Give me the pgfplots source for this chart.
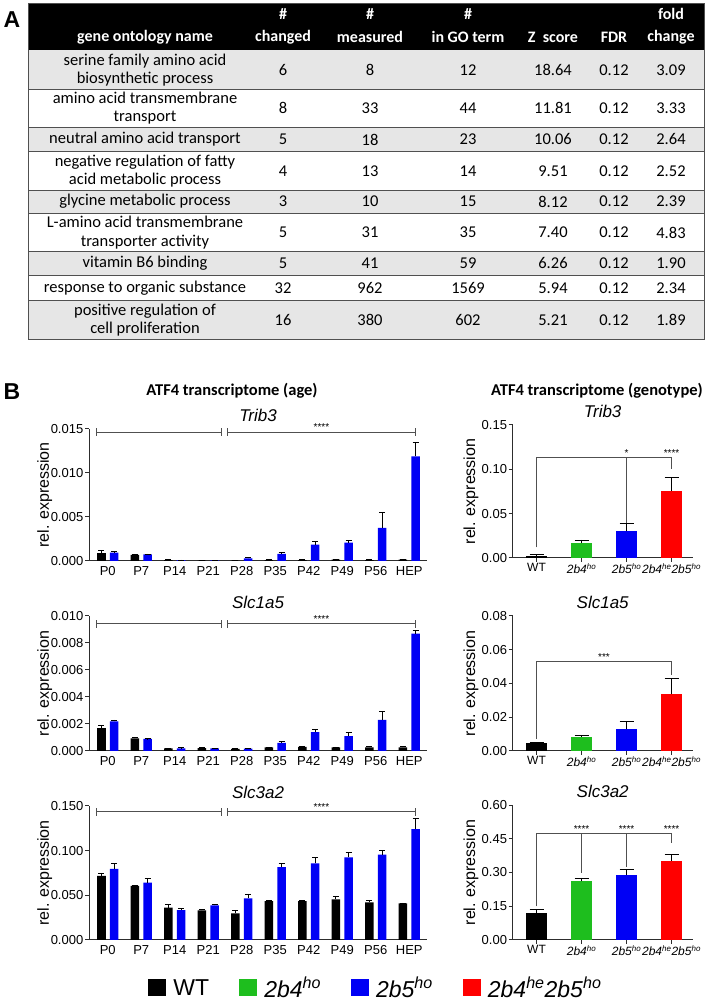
\documentclass[border=0pt]{standalone}
\usepackage{pgfplots}
\usepackage{pgfplotstable}
\pgfplotsset{compat=1.18}
\usepackage{fontspec}
\setmainfont{Liberation Sans}
\newfontfamily\tabfont{Carlito}

\definecolor{rowgray}{RGB}{230,230,230}
\definecolor{lngray}{RGB}{80,80,80}
\definecolor{cgreen}{RGB}{30,190,30}
\definecolor{cblue}{RGB}{0,0,245}
\definecolor{cred}{RGB}{255,0,0}
\definecolor{axgray}{RGB}{45,45,45}

% age series: x, WT mean, WT sem, 2b5ho mean, 2b5ho sem
\pgfplotstableread{
x wt wterr ko koerr
0 0.00090 0.00025 0.00095 0.00015
1 0.00070 0.00010 0.00075 0.00005
2 0.00010 0.00003 0.00010 0.00002
3 0.00005 0.00002 0.00008 0.00002
4 0.00005 0.00002 0.00030 0.00015
5 0.00010 0.00003 0.00080 0.00020
6 0.00010 0.00003 0.00185 0.00035
7 0.00015 0.00003 0.00210 0.00025
8 0.00010 0.00003 0.00375 0.00175
9 0.00015 0.00003 0.01190 0.00160
}\tribage
\pgfplotstableread{
x wt wterr ko koerr
0 0.00170 0.00020 0.00220 0.00010
1 0.00094 0.00006 0.00089 0.00003
2 0.00020 0.00002 0.00020 0.00003
3 0.00022 0.00006 0.00020 0.00002
4 0.00015 0.00002 0.00017 0.00002
5 0.00027 0.00002 0.00060 0.00008
6 0.00030 0.00003 0.00140 0.00018
7 0.00027 0.00003 0.00110 0.00025
8 0.00027 0.00010 0.00230 0.00060
9 0.00027 0.00010 0.00870 0.00020
}\slconeage
\pgfplotstableread{
x wt wterr ko koerr
0 0.0718 0.0032 0.0797 0.0060
1 0.0605 0.0005 0.0643 0.0041
2 0.0361 0.0037 0.0335 0.0018
3 0.0331 0.0015 0.0387 0.0011
4 0.0297 0.0034 0.0466 0.0049
5 0.0436 0.0005 0.0816 0.0037
6 0.0436 0.0005 0.0857 0.0064
7 0.0455 0.0030 0.0925 0.0052
8 0.0421 0.0019 0.0955 0.0045
9 0.0410 0.0005 0.1240 0.0120
}\slcthreeage

\pgfplotsset{
  base/.style={
    scale only axis, axis lines=left,
    axis line style={-, line width=1pt, axgray},
    tick style={line width=1pt, axgray}, tick align=outside, major tick length=4pt,
    ymin=0, clip=false, scaled y ticks=false,
    /pgf/number format/assume math mode=true,
    tick label style={font=\fontsize{13}{15}\selectfont, inner sep=1.5pt},
    ylabel={rel. expression},
    ylabel style={font=\fontsize{16}{18}\selectfont, anchor=center},
    title style={font=\fontsize{17}{19}\selectfont\itshape, at={(0.5,1)}, anchor=center, yshift=8pt},
  },
  ageax/.style={base, width=338pt, xmin=-0.56, xmax=9.53, xtick={0,...,9},
    xticklabels={P0,P7,P14,P21,P28,P35,P42,P49,P56,HEP},
    xtick style={draw=none},
    ylabel style={at={(axis description cs:-0.131,0.5)}},
    yticklabel style={/pgf/number format/.cd, fixed, fixed zerofill, precision=3}},
  genoax/.style={base, width=180pt, xmin=-0.53, xmax=3.47, xtick={0,1,2,3},
    xticklabels={WT,\textit{2b4}\textsuperscript{\textit{ho}},\textit{2b5}\textsuperscript{\textit{ho}},\textit{2b4}\textsuperscript{\textit{he}}\textit{2b5}\textsuperscript{\textit{ho}}},
    xticklabel style={font=\fontsize{12}{14}\selectfont},
    ylabel style={at={(axis description cs:-0.232,0.5)}},
    yticklabel style={/pgf/number format/.cd, fixed, fixed zerofill, precision=2}},
  agebar/.style={ybar, bar width=0.26, bar shift=0pt, draw=none, fill=#1,
    error bars/y dir=plus, error bars/y explicit,
    error bars/error bar style={line width=0.8pt, black},
    error bars/error mark options={rotate=90, mark size=3pt, line width=0.8pt, black}},
  genobar/.style={ybar, bar width=0.46, bar shift=0pt, draw=none, fill=#1,
    error bars/y dir=plus, error bars/y explicit,
    error bars/error bar style={line width=0.8pt, black},
    error bars/error mark options={rotate=90, mark size=7pt, line width=0.8pt, black}},
}
\tikzset{brk/.style={line width=0.8pt, lngray},
  stars/.style={font=\fontsize{10}{10}\selectfont, anchor=base, yshift=1pt, inner sep=0pt}}

\newcommand\agebracket[1]{%
  \draw[brk] (axis cs:-0.33,#1) -- (axis cs:3.39,#1);
  \draw[brk] ([yshift=-4pt]axis cs:-0.33,#1) -- ([yshift=4pt]axis cs:-0.33,#1);
  \draw[brk] ([yshift=-4pt]axis cs:3.39,#1) -- ([yshift=4pt]axis cs:3.39,#1);
  \draw[brk] (axis cs:3.57,#1) -- (axis cs:9.19,#1);
  \draw[brk] ([yshift=-4pt]axis cs:3.57,#1) -- ([yshift=4pt]axis cs:3.57,#1);
  \draw[brk] ([yshift=-4pt]axis cs:9.19,#1) -- ([yshift=4pt]axis cs:9.19,#1);
  \node[stars] at (axis cs:6.38,#1) {****};}

\newcommand\trow[8]{%
  \node[align=center] at (145,#1) {#2};
  \node at (283,#1) {#3};
  \node at (370,#1) {#4};
  \node at (468,#1) {#5};
  \node at (553,#1) {#6};
  \node at (614,#1) {#7};
  \node at (671,#1) {#8};}

\begin{document}
\begin{tikzpicture}
\useasboundingbox (0pt,0pt) rectangle (709pt,1004pt);

% ---------------- Panel A: table ----------------
\begin{scope}[shift={(0pt,1004pt)}, x=1pt, y=-1pt]
  \node[font=\fontsize{23}{25}\selectfont\bfseries] at (12,20) {A};
  \node[font=\fontsize{23}{25}\selectfont\bfseries] at (12,392) {B};
  \fill[black] (28,3) rectangle (704,50);
  \foreach \a/\b in {50/89,127/151,190/213,251/275,300/339}
    {\fill[rowgray] (28,\a) rectangle (704,\b);}
  \foreach \yy in {89,127,151,190,213,251,275,300}
    {\draw[lngray, line width=0.8pt] (28,\yy) -- (704,\yy);}
  \draw[lngray, line width=0.8pt] (28,3) rectangle (704,339);
  \begin{scope}[every node/.style={font=\tabfont\bfseries\fontsize{16}{18}\selectfont, text=white, inner sep=0pt}]
    \node at (145,37) {gene ontology name};
    \node at (283,14) {\#};  \node at (283,37) {changed};
    \node at (370,14) {\#};  \node at (370,37) {measured};
    \node at (468,14) {\#};  \node at (468,37) {in GO term};
    \node at (553,37) {Z\ \ score};
    \node at (614,37) {FDR};
    \node at (671,14) {fold}; \node at (671,37) {change};
  \end{scope}
  \begin{scope}[every node/.style={font=\tabfont\fontsize{16.5}{18.5}\selectfont, inner sep=0pt}]
    \trow{70}{serine family amino acid\\biosynthetic process}{6}{8}{12}{18.64}{0.12}{3.09}
    \trow{108}{amino acid transmembrane\\transport}{8}{33}{44}{11.81}{0.12}{3.33}
    \trow{139.5}{neutral amino acid transport}{5}{18}{23}{10.06}{0.12}{2.64}
    \trow{171}{negative regulation of fatty\\acid metabolic process}{4}{13}{14}{9.51}{0.12}{2.52}
    \trow{201.5}{glycine metabolic process}{3}{10}{15}{8.12}{0.12}{2.39}
    \trow{232.5}{L-amino acid transmembrane\\transporter activity}{5}{31}{35}{7.40}{0.12}{4.83}
    \trow{263.5}{vitamin B6 binding}{5}{41}{59}{6.26}{0.12}{1.90}
    \trow{288}{response to organic substance}{32}{962}{1569}{5.94}{0.12}{2.34}
    \trow{320}{positive regulation of\\cell proliferation}{16}{380}{602}{5.21}{0.12}{1.89}
  \end{scope}
  \node[font=\tabfont\bfseries\fontsize{16.5}{18}\selectfont] at (232,391) {ATF4 transcriptome (age)};
  \node[font=\tabfont\bfseries\fontsize{16.5}{18}\selectfont] at (597,391) {ATF4 transcriptome (genotype)};
\end{scope}

% ---------------- Panel B: age ----------------
\begin{axis}[ageax, at={(89pt,443pt)}, anchor=south west, height=132pt,
  ymax=0.015, ytick={0,0.005,0.010,0.015}, title={Trib3}]
  \addplot[agebar=black] table[x expr=\thisrow{x}-0.19, y=wt, y error=wterr] {\tribage};
  \addplot[agebar=cblue] table[x expr=\thisrow{x}+0.19, y=ko, y error=koerr] {\tribage};
  \agebracket{0.01466}
\end{axis}

\begin{axis}[ageax, at={(89pt,253pt)}, anchor=south west, height=135pt,
  ymax=0.010, ytick={0,0.002,0.004,0.006,0.008,0.010}, title={Slc1a5}]
  \addplot[agebar=black] table[x expr=\thisrow{x}-0.19, y=wt, y error=wterr] {\slconeage};
  \addplot[agebar=cblue] table[x expr=\thisrow{x}+0.19, y=ko, y error=koerr] {\slconeage};
  \agebracket{0.00944}
\end{axis}

\begin{axis}[ageax, at={(89pt,64pt)}, anchor=south west, height=134pt,
  ymax=0.150, ytick={0,0.05,0.10,0.15}, title={Slc3a2}]
  \addplot[agebar=black] table[x expr=\thisrow{x}-0.19, y=wt, y error=wterr] {\slcthreeage};
  \addplot[agebar=cblue] table[x expr=\thisrow{x}+0.19, y=ko, y error=koerr] {\slcthreeage};
  \agebracket{0.1435}
\end{axis}

% ---------------- Panel B: genotype ----------------
\begin{axis}[genoax, at={(512.7pt,446pt)}, anchor=south west, height=133pt,
  ymax=0.15, ytick={0,0.05,0.10,0.15}, title={Trib3}]
  \addplot[genobar=black] coordinates {(0,0.0026) +- (0,0.0014)};
  \addplot[genobar=cgreen] coordinates {(1,0.0169) +- (0,0.0034)};
  \addplot[genobar=cblue] coordinates {(2,0.0300) +- (0,0.0090)};
  \addplot[genobar=cred] coordinates {(3,0.0755) +- (0,0.0150)};
  \draw[brk] (axis cs:0,0.012) |- (axis cs:3,0.113) -- (axis cs:3,0.100);
  \draw[brk] (axis cs:2,0.113) -- (axis cs:2,0.040);
  \node[stars] at (axis cs:2,0.113) {*};
  \node[stars] at (axis cs:3,0.113) {****};
\end{axis}

\begin{axis}[genoax, at={(512.7pt,253pt)}, anchor=south west, height=135pt,
  ymax=0.08, ytick={0,0.02,0.04,0.06,0.08}, title={Slc1a5}]
  \addplot[genobar=black] coordinates {(0,0.0050) +- (0,0.0002)};
  \addplot[genobar=cgreen] coordinates {(1,0.0083) +- (0,0.0008)};
  \addplot[genobar=cblue] coordinates {(2,0.0129) +- (0,0.0047)};
  \addplot[genobar=cred] coordinates {(3,0.0335) +- (0,0.0093)};
  \draw[brk] (axis cs:0,0.007) |- (axis cs:3,0.0528) -- (axis cs:3,0.045);
  \node[stars] at (axis cs:1.5,0.0528) {***};
\end{axis}

\begin{axis}[genoax, at={(512.7pt,64pt)}, anchor=south west, height=135pt,
  ymax=0.60, ytick={0,0.15,0.30,0.45,0.60}, title={Slc3a2}]
  \addplot[genobar=black] coordinates {(0,0.119) +- (0,0.018)};
  \addplot[genobar=cgreen] coordinates {(1,0.261) +- (0,0.015)};
  \addplot[genobar=cblue] coordinates {(2,0.288) +- (0,0.024)};
  \addplot[genobar=cred] coordinates {(3,0.353) +- (0,0.027)};
  \draw[brk] (axis cs:0,0.150) |- (axis cs:3,0.472) -- (axis cs:3,0.430);
  \draw[brk] (axis cs:1,0.472) -- (axis cs:1,0.300);
  \draw[brk] (axis cs:2,0.472) -- (axis cs:2,0.325);
  \node[stars] at (axis cs:1,0.472) {****};
  \node[stars] at (axis cs:2,0.472) {****};
  \node[stars] at (axis cs:3,0.472) {****};
\end{axis}

% ---------------- Legend ----------------
\begin{axis}[hide axis, scale only axis, width=10pt, height=10pt,
  at={(376pt,16pt)}, anchor=center, xmin=0, xmax=1, ymin=0, ymax=1,
  legend columns=4,
  legend style={at={(0.5,0.5)}, anchor=center, draw=none, fill=none,
    font=\fontsize{23}{26}\selectfont,
    /tikz/every even column/.append style={column sep=28pt},
    /tikz/every odd column/.append style={column sep=5pt}},
  legend image code/.code={\fill[#1] (0pt,-8pt) rectangle (18pt,9pt);}]
  \addlegendimage{fill=black, draw=none}
  \addlegendentry{WT}
  \addlegendimage{fill=cgreen, draw=none}
  \addlegendentry{\textit{2b4}\textsuperscript{\textit{ho}}}
  \addlegendimage{fill=cblue, draw=none}
  \addlegendentry{\textit{2b5}\textsuperscript{\textit{ho}}}
  \addlegendimage{fill=cred, draw=none}
  \addlegendentry{\textit{2b4}\textsuperscript{\textit{he}}\textit{2b5}\textsuperscript{\textit{ho}}}
\end{axis}
\end{tikzpicture}
\end{document}
